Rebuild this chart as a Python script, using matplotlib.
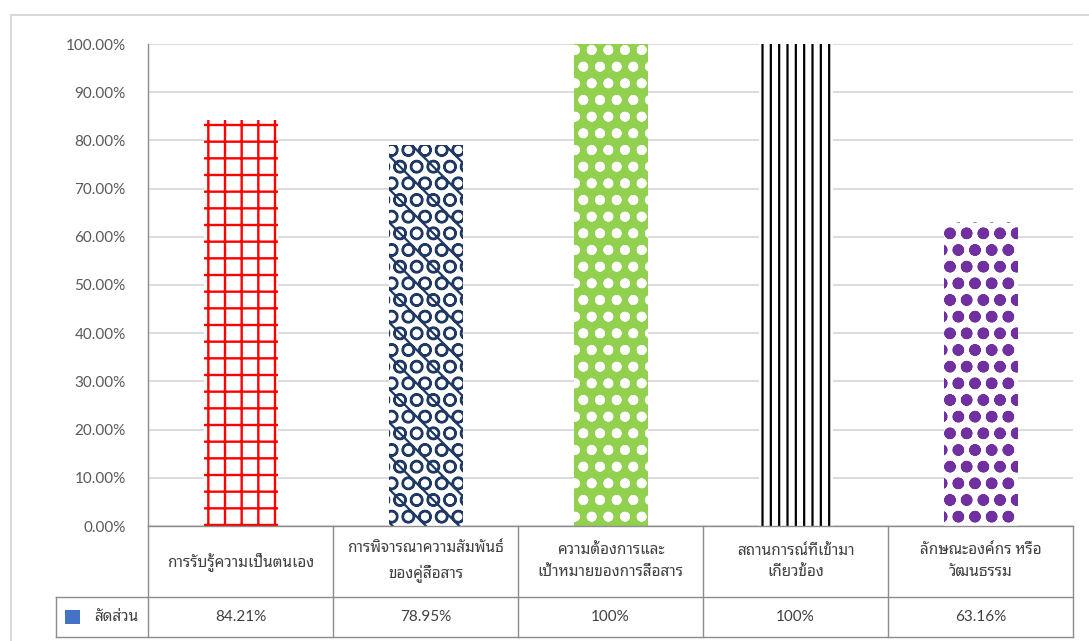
import matplotlib
matplotlib.use("Agg")
import matplotlib.pyplot as plt
import matplotlib.transforms as mtransforms
from matplotlib.patches import Rectangle
from matplotlib.ticker import PercentFormatter, MultipleLocator

plt.rcParams['font.family'] = ['Lato', 'Noto Sans Thai Looped', 'DejaVu Sans']

categories = [
    "การรับรู้ความเป็นตนเอง",
    "การพิจารณาความสัมพันธ์\nของคู่สื่อสาร",
    "ความต้องการและ\nเป้าหมายของการสื่อสาร",
    "สถานการณ์ที่เข้ามา\nเกี่ยวข้อง",
    "ลักษณะองค์กร หรือ\nวัฒนธรรม",
]
values = [0.8421, 0.7895, 1.00, 1.00, 0.6316]
series_name = "สัดส่วน"

# (hatch, hatch colour, face colour, hatch linewidth) per bar
styles = [
    ('+', '#FF0000', 'white', 1.7),
    ('O\\', '#203864', 'white', 1.6),
    ('o.', 'white', '#92D050', 2.4),
    ('||', '#000000', 'white', 1.6),
    ('o.', '#7030A0', 'white', 3.6),
]

grid_c = '#D9D9D9'
table_c = '#8C8C8C'
text_c = '#404040'

fig = plt.figure(figsize=(10.89, 6.41), dpi=100)
ax = fig.add_axes([148 / 1089, 115 / 641, 925 / 1089, 482 / 641])

x = list(range(len(categories)))
bars = ax.bar(x, values, width=0.4, zorder=2)
for b, (h, hc, fc, hlw) in zip(bars, styles):
    b.set_facecolor(fc)
    b.set_edgecolor(hc)
    b.set_linewidth(0)
    b.set_hatch(h)
    if hasattr(b, 'set_hatch_linewidth'):
        b.set_hatch_linewidth(hlw)

ax.set_xlim(-0.5, len(categories) - 0.5)
ax.set_ylim(0, 1)
ax.yaxis.set_major_locator(MultipleLocator(0.1))
ax.yaxis.set_major_formatter(PercentFormatter(1.0, decimals=2))
ax.tick_params(axis='y', length=0, pad=16, labelsize=11, labelcolor='#595959')
ax.tick_params(axis='x', length=0, labelbottom=False)
ax.grid(axis='y', color=grid_c, lw=1.3, zorder=0)
ax.set_axisbelow(True)
for s in ['top', 'right']:
    ax.spines[s].set_visible(False)
ax.spines['left'].set_color(table_c)
ax.spines['bottom'].set_color(table_c)
ax.spines['left'].set_linewidth(1.0)
ax.spines['bottom'].set_linewidth(1.0)

# data table under the axis
trans = mtransforms.blended_transform_factory(ax.transData, ax.transAxes)
row1_y = -71 / 482
row2_y = -111 / 482
for i in range(len(categories) + 1):
    ax.plot([i - 0.5, i - 0.5], [0, row2_y], color=table_c, lw=1.0,
            transform=trans, clip_on=False)
ax.plot([-1.0, -1.0], [row1_y, row2_y], color=table_c, lw=1.0,
        transform=trans, clip_on=False)
for yy in (row1_y, row2_y):
    ax.plot([-1.0, len(categories) - 0.5], [yy, yy], color=table_c, lw=1.0,
            transform=trans, clip_on=False)

for i, (c, v) in enumerate(zip(categories, values)):
    ax.text(i, row1_y / 2, c, transform=trans, ha='center', va='center',
            fontsize=11, color=text_c, linespacing=1.65)
    if v < 1:
        lbl = f"{v * 100:.2f}%"
    else:
        lbl = f"{v * 100:.0f}%"
    ax.text(i, (row1_y + row2_y) / 2, lbl, transform=trans, ha='center',
            va='center', fontsize=11, color=text_c)

# legend key in the row header
ax.add_patch(Rectangle((-0.947, (row1_y + row2_y) / 2 - 0.0155), 0.08, 0.031,
                       transform=trans, facecolor='#4472C4', clip_on=False))
ax.text(-0.67, (row1_y + row2_y) / 2, series_name, transform=trans,
        ha='center', va='center', fontsize=11, color=text_c)

# chart area frame
fig.patches.append(Rectangle((11 / 1089, -0.05), 1.1, (641 - 15) / 641 + 0.05,
                             transform=fig.transFigure, fill=False,
                             edgecolor=grid_c, lw=1.5))

fig.savefig("out.png", dpi=100)
